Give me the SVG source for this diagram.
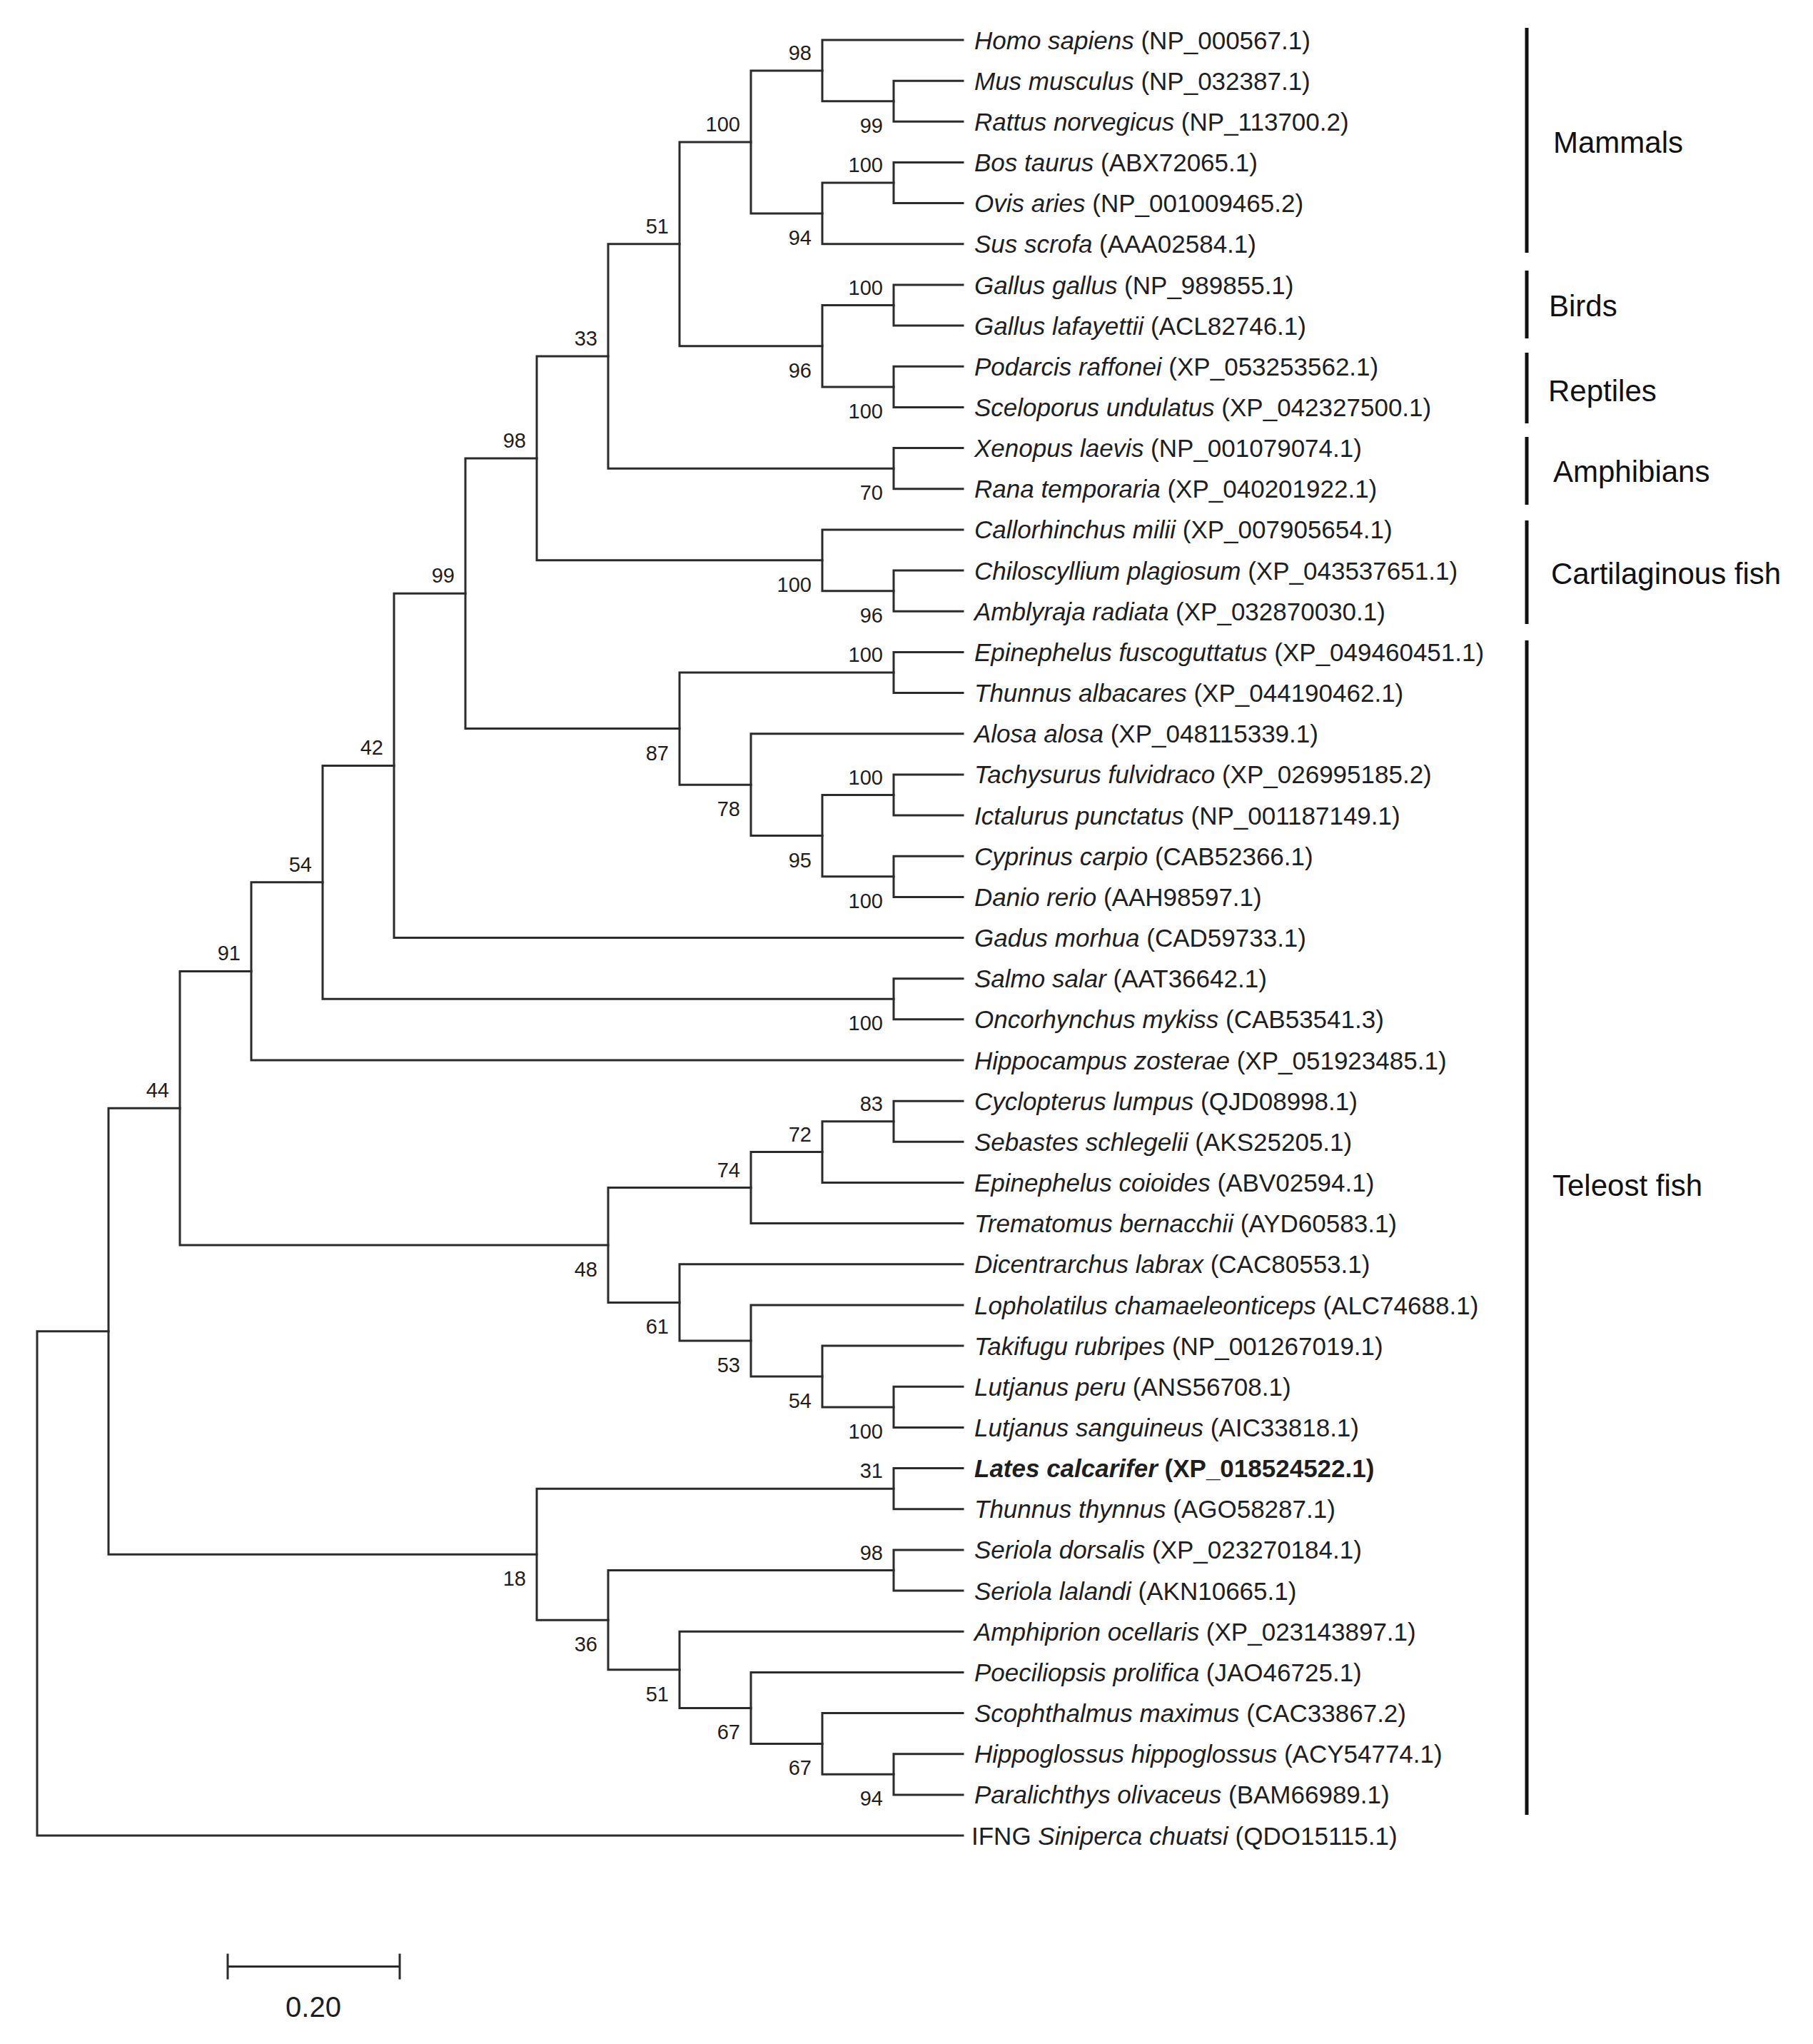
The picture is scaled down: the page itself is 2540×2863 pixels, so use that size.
<svg xmlns="http://www.w3.org/2000/svg" width="2540" height="2863" viewBox="0 0 2540 2863" xml:space="preserve">
<style>
.br{stroke:#2b2b2b;stroke-width:3;fill:none;stroke-linecap:square}
.bs{font-family:"Liberation Sans",Arial,sans-serif;font-size:29px;text-anchor:end;fill:#1e1e1e}
.lf{font-family:"Liberation Sans",Arial,sans-serif;font-size:35px;fill:#1e1e1e}
.sp{font-style:italic}
.bd{font-weight:bold}
.bar{stroke:#111;stroke-width:5}
.grp{font-family:"Liberation Sans",Arial,sans-serif;font-size:42px;fill:#111}
</style>
<rect width="2540" height="2863" fill="#fff"/>
<g id="connectors">
<path class="br" d="M1349 113.2 H1252 V170.3 H1349"/>
<path class="br" d="M1349 56 H1152 V141.7 H1252"/>
<path class="br" d="M1349 227.5 H1252 V284.6 H1349"/>
<path class="br" d="M1252 256.1 H1152 V341.8 H1349"/>
<path class="br" d="M1152 98.9 H1052 V298.9 H1152"/>
<path class="br" d="M1349 399 H1252 V456.1 H1349"/>
<path class="br" d="M1349 513.3 H1252 V570.4 H1349"/>
<path class="br" d="M1252 427.5 H1152 V541.9 H1252"/>
<path class="br" d="M1052 198.9 H952 V484.7 H1152"/>
<path class="br" d="M1349 627.6 H1252 V684.8 H1349"/>
<path class="br" d="M952 341.8 H852 V656.2 H1252"/>
<path class="br" d="M1349 799.1 H1252 V856.2 H1349"/>
<path class="br" d="M1349 741.9 H1152 V827.7 H1252"/>
<path class="br" d="M852 499 H752 V784.8 H1152"/>
<path class="br" d="M1349 913.4 H1252 V970.6 H1349"/>
<path class="br" d="M1349 1084.9 H1252 V1142 H1349"/>
<path class="br" d="M1349 1199.2 H1252 V1256.4 H1349"/>
<path class="br" d="M1252 1113.5 H1152 V1227.8 H1252"/>
<path class="br" d="M1349 1027.7 H1052 V1170.6 H1152"/>
<path class="br" d="M1252 942 H952 V1099.2 H1052"/>
<path class="br" d="M752 641.9 H652 V1020.6 H952"/>
<path class="br" d="M652 831.2 H552 V1313.5 H1349"/>
<path class="br" d="M1349 1370.7 H1252 V1427.8 H1349"/>
<path class="br" d="M552 1072.4 H452 V1399.3 H1252"/>
<path class="br" d="M452 1235.8 H352 V1485 H1349"/>
<path class="br" d="M1349 1542.2 H1252 V1599.3 H1349"/>
<path class="br" d="M1252 1570.7 H1152 V1656.5 H1349"/>
<path class="br" d="M1152 1613.6 H1052 V1713.6 H1349"/>
<path class="br" d="M1349 1942.3 H1252 V1999.4 H1349"/>
<path class="br" d="M1349 1885.1 H1152 V1970.9 H1252"/>
<path class="br" d="M1349 1828 H1052 V1928 H1152"/>
<path class="br" d="M1349 1770.8 H952 V1878 H1052"/>
<path class="br" d="M1052 1663.6 H852 V1824.4 H952"/>
<path class="br" d="M352 1360.4 H252 V1744 H852"/>
<path class="br" d="M1349 2056.6 H1252 V2113.8 H1349"/>
<path class="br" d="M1349 2170.9 H1252 V2228.1 H1349"/>
<path class="br" d="M1349 2456.7 H1252 V2513.9 H1349"/>
<path class="br" d="M1349 2399.6 H1152 V2485.3 H1252"/>
<path class="br" d="M1349 2342.4 H1052 V2442.4 H1152"/>
<path class="br" d="M1349 2285.2 H952 V2392.4 H1052"/>
<path class="br" d="M1252 2199.5 H852 V2338.8 H952"/>
<path class="br" d="M1252 2085.2 H752 V2269.2 H852"/>
<path class="br" d="M252 1552.2 H152 V2177.2 H752"/>
<path class="br" d="M152 1864.7 H52 V2571 H1349"/>
</g>
<g id="bootstrap">
<text class="bs" x="1237" y="185.7">99</text>
<text class="bs" x="1137" y="83.9">98</text>
<text class="bs" x="1237" y="241.1">100</text>
<text class="bs" x="1137" y="342.9">94</text>
<text class="bs" x="1037" y="183.9">100</text>
<text class="bs" x="1237" y="412.5">100</text>
<text class="bs" x="1237" y="585.9">100</text>
<text class="bs" x="1137" y="528.7">96</text>
<text class="bs" x="937" y="326.8">51</text>
<text class="bs" x="1237" y="700.2">70</text>
<text class="bs" x="837" y="484">33</text>
<text class="bs" x="1237" y="871.7">96</text>
<text class="bs" x="1137" y="828.8">100</text>
<text class="bs" x="737" y="626.9">98</text>
<text class="bs" x="1237" y="927">100</text>
<text class="bs" x="1237" y="1098.5">100</text>
<text class="bs" x="1237" y="1271.8">100</text>
<text class="bs" x="1137" y="1214.6">95</text>
<text class="bs" x="1037" y="1143.2">78</text>
<text class="bs" x="937" y="1064.6">87</text>
<text class="bs" x="637" y="816.2">99</text>
<text class="bs" x="537" y="1057.4">42</text>
<text class="bs" x="1237" y="1443.3">100</text>
<text class="bs" x="437" y="1220.8">54</text>
<text class="bs" x="337" y="1345.4">91</text>
<text class="bs" x="1237" y="1555.7">83</text>
<text class="bs" x="1137" y="1598.6">72</text>
<text class="bs" x="1037" y="1648.6">74</text>
<text class="bs" x="1237" y="2014.9">100</text>
<text class="bs" x="1137" y="1972">54</text>
<text class="bs" x="1037" y="1922">53</text>
<text class="bs" x="937" y="1868.4">61</text>
<text class="bs" x="837" y="1788">48</text>
<text class="bs" x="237" y="1537.2">44</text>
<text class="bs" x="1237" y="2070.2">31</text>
<text class="bs" x="1237" y="2184.5">98</text>
<text class="bs" x="1237" y="2529.3">94</text>
<text class="bs" x="1137" y="2486.4">67</text>
<text class="bs" x="1037" y="2436.4">67</text>
<text class="bs" x="937" y="2382.8">51</text>
<text class="bs" x="837" y="2313.2">36</text>
<text class="bs" x="737" y="2221.2">18</text>
</g>
<g id="leaf-homo-sapiens"><text class="lf" x="1365" y="68.5"><tspan class="sp">Homo sapiens</tspan>  (NP_000567.1)</text></g>
<g id="leaf-mus-musculus"><text class="lf" x="1365" y="125.7"><tspan class="sp">Mus musculus</tspan> (NP_032387.1)</text></g>
<g id="leaf-rattus-norvegicus"><text class="lf" x="1365" y="182.8"><tspan class="sp">Rattus norvegicus</tspan>  (NP_113700.2)</text></g>
<g id="leaf-bos-taurus"><text class="lf" x="1365" y="240"><tspan class="sp">Bos taurus</tspan>  (ABX72065.1)</text></g>
<g id="leaf-ovis-aries"><text class="lf" x="1365" y="297.1"><tspan class="sp">Ovis aries</tspan>  (NP_001009465.2)</text></g>
<g id="leaf-sus-scrofa"><text class="lf" x="1365" y="354.3"><tspan class="sp">Sus scrofa</tspan>  (AAA02584.1)</text></g>
<g id="leaf-gallus-gallus"><text class="lf" x="1365" y="411.5"><tspan class="sp">Gallus gallus</tspan>  (NP_989855.1)</text></g>
<g id="leaf-gallus-lafayettii"><text class="lf" x="1365" y="468.6"><tspan class="sp">Gallus lafayettii</tspan>  (ACL82746.1)</text></g>
<g id="leaf-podarcis-raffonei"><text class="lf" x="1365" y="525.8"><tspan class="sp">Podarcis raffonei</tspan> (XP_053253562.1)</text></g>
<g id="leaf-sceloporus-undulatus"><text class="lf" x="1365" y="582.9"><tspan class="sp">Sceloporus undulatus</tspan> (XP_042327500.1)</text></g>
<g id="leaf-xenopus-laevis"><text class="lf" x="1365" y="640.1"><tspan class="sp">Xenopus laevis</tspan> (NP_001079074.1)</text></g>
<g id="leaf-rana-temporaria"><text class="lf" x="1365" y="697.3"><tspan class="sp">Rana temporaria</tspan> (XP_040201922.1)</text></g>
<g id="leaf-callorhinchus-milii"><text class="lf" x="1365" y="754.4"><tspan class="sp">Callorhinchus milii</tspan> (XP_007905654.1)</text></g>
<g id="leaf-chiloscyllium-plagiosum"><text class="lf" x="1365" y="811.6"><tspan class="sp">Chiloscyllium plagiosum</tspan> (XP_043537651.1)</text></g>
<g id="leaf-amblyraja-radiata"><text class="lf" x="1365" y="868.7"><tspan class="sp">Amblyraja radiata</tspan> (XP_032870030.1)</text></g>
<g id="leaf-epinephelus-fuscoguttatus"><text class="lf" x="1365" y="925.9"><tspan class="sp">Epinephelus fuscoguttatus</tspan>  (XP_049460451.1)</text></g>
<g id="leaf-thunnus-albacares"><text class="lf" x="1365" y="983.1"><tspan class="sp">Thunnus albacares</tspan> (XP_044190462.1)</text></g>
<g id="leaf-alosa-alosa"><text class="lf" x="1365" y="1040.2"><tspan class="sp">Alosa alosa</tspan>  (XP_048115339.1)</text></g>
<g id="leaf-tachysurus-fulvidraco"><text class="lf" x="1365" y="1097.4"><tspan class="sp">Tachysurus fulvidraco</tspan> (XP_026995185.2)</text></g>
<g id="leaf-ictalurus-punctatus"><text class="lf" x="1365" y="1154.5"><tspan class="sp">Ictalurus punctatus</tspan> (NP_001187149.1)</text></g>
<g id="leaf-cyprinus-carpio"><text class="lf" x="1365" y="1211.7"><tspan class="sp">Cyprinus carpio</tspan> (CAB52366.1)</text></g>
<g id="leaf-danio-rerio"><text class="lf" x="1365" y="1268.9"><tspan class="sp">Danio rerio</tspan> (AAH98597.1)</text></g>
<g id="leaf-gadus-morhua"><text class="lf" x="1365" y="1326"><tspan class="sp">Gadus morhua</tspan> (CAD59733.1)</text></g>
<g id="leaf-salmo-salar"><text class="lf" x="1365" y="1383.2"><tspan class="sp">Salmo salar</tspan> (AAT36642.1)</text></g>
<g id="leaf-oncorhynchus-mykiss"><text class="lf" x="1365" y="1440.3"><tspan class="sp">Oncorhynchus mykiss</tspan> (CAB53541.3)</text></g>
<g id="leaf-hippocampus-zosterae"><text class="lf" x="1365" y="1497.5"><tspan class="sp">Hippocampus zosterae</tspan> (XP_051923485.1)</text></g>
<g id="leaf-cyclopterus-lumpus"><text class="lf" x="1365" y="1554.7"><tspan class="sp">Cyclopterus lumpus</tspan> (QJD08998.1)</text></g>
<g id="leaf-sebastes-schlegelii"><text class="lf" x="1365" y="1611.8"><tspan class="sp">Sebastes schlegelii</tspan>  (AKS25205.1)</text></g>
<g id="leaf-epinephelus-coioides"><text class="lf" x="1365" y="1669"><tspan class="sp">Epinephelus coioides</tspan>  (ABV02594.1)</text></g>
<g id="leaf-trematomus-bernacchii"><text class="lf" x="1365" y="1726.1"><tspan class="sp">Trematomus bernacchii</tspan>  (AYD60583.1)</text></g>
<g id="leaf-dicentrarchus-labrax"><text class="lf" x="1365" y="1783.3"><tspan class="sp">Dicentrarchus labrax</tspan>  (CAC80553.1)</text></g>
<g id="leaf-lopholatilus-chamaeleonticeps"><text class="lf" x="1365" y="1840.5"><tspan class="sp">Lopholatilus chamaeleonticeps</tspan>  (ALC74688.1)</text></g>
<g id="leaf-takifugu-rubripes"><text class="lf" x="1365" y="1897.6"><tspan class="sp">Takifugu rubripes</tspan> (NP_001267019.1)</text></g>
<g id="leaf-lutjanus-peru"><text class="lf" x="1365" y="1954.8"><tspan class="sp">Lutjanus peru</tspan>  (ANS56708.1)</text></g>
<g id="leaf-lutjanus-sanguineus"><text class="lf" x="1365" y="2011.9"><tspan class="sp">Lutjanus sanguineus</tspan> (AIC33818.1)</text></g>
<g id="leaf-lates-calcarifer"><text class="lf bd" x="1365" y="2069.1"><tspan class="sp">Lates calcarifer</tspan> (XP_018524522.1)</text></g>
<g id="leaf-thunnus-thynnus"><text class="lf" x="1365" y="2126.3"><tspan class="sp">Thunnus thynnus</tspan> (AGO58287.1)</text></g>
<g id="leaf-seriola-dorsalis"><text class="lf" x="1365" y="2183.4"><tspan class="sp">Seriola dorsalis</tspan> (XP_023270184.1)</text></g>
<g id="leaf-seriola-lalandi"><text class="lf" x="1365" y="2240.6"><tspan class="sp">Seriola lalandi</tspan> (AKN10665.1)</text></g>
<g id="leaf-amphiprion-ocellaris"><text class="lf" x="1365" y="2297.7"><tspan class="sp">Amphiprion ocellaris</tspan> (XP_023143897.1)</text></g>
<g id="leaf-poeciliopsis-prolifica"><text class="lf" x="1365" y="2354.9"><tspan class="sp">Poeciliopsis prolifica</tspan> (JAO46725.1)</text></g>
<g id="leaf-scophthalmus-maximus"><text class="lf" x="1365" y="2412.1"><tspan class="sp">Scophthalmus maximus</tspan> (CAC33867.2)</text></g>
<g id="leaf-hippoglossus-hippoglossus"><text class="lf" x="1365" y="2469.2"><tspan class="sp">Hippoglossus hippoglossus</tspan> (ACY54774.1)</text></g>
<g id="leaf-paralichthys-olivaceus"><text class="lf" x="1365" y="2526.4"><tspan class="sp">Paralichthys olivaceus</tspan>  (BAM66989.1)</text></g>
<g id="leaf-ifng-siniperca-chuatsi"><text class="lf" x="1361" y="2583.5">IFNG <tspan class="sp">Siniperca chuatsi</tspan> (QDO15115.1)</text></g>
<g id="group-mammals"><line class="bar" x1="2139" y1="39" x2="2139" y2="354"/><text class="grp" x="2176" y="214">Mammals</text></g>
<g id="group-birds"><line class="bar" x1="2139" y1="379" x2="2139" y2="474"/><text class="grp" x="2170" y="443">Birds</text></g>
<g id="group-reptiles"><line class="bar" x1="2139" y1="494" x2="2139" y2="593"/><text class="grp" x="2169" y="562">Reptiles</text></g>
<g id="group-amphibians"><line class="bar" x1="2139" y1="612" x2="2139" y2="707"/><text class="grp" x="2176" y="675">Amphibians</text></g>
<g id="group-cartilaginous-fish"><line class="bar" x1="2139" y1="729" x2="2139" y2="874"/><text class="grp" x="2173" y="818">Cartilaginous fish</text></g>
<g id="group-teleost-fish"><line class="bar" x1="2139" y1="897" x2="2139" y2="2542"/><text class="grp" x="2175" y="1675">Teleost fish</text></g>
<g id="scale-bar">
<path class="br" d="M319 2754.5 H560 M319 2738 V2771 M560 2738 V2771"/>
<text x="439" y="2825" font-family="Liberation Sans, Arial, sans-serif" font-size="40" text-anchor="middle" fill="#1e1e1e">0.20</text>
</g>
</svg>
